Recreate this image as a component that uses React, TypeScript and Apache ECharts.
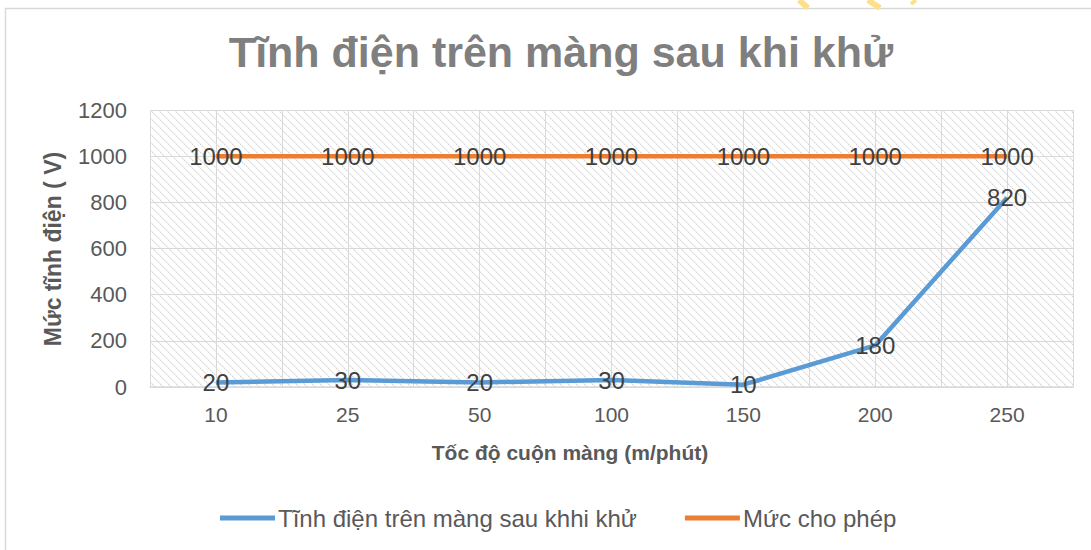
import React, { useEffect, useRef } from "react";
import * as echarts from "echarts";

const categories = ["10", "25", "50", "100", "150", "200", "250"];
const measured = [20, 30, 20, 30, 10, 180, 820];
const allowed = [1000, 1000, 1000, 1000, 1000, 1000, 1000];
const seriesNames = ["Tĩnh điện trên màng sau khhi khử", "Mức cho phép"];
const yTicks = { min: 0, max: 1200, interval: 200 };

const FONT = "'Liberation Sans', Arial, sans-serif";

function makePattern(): HTMLCanvasElement {
  const c = document.createElement("canvas");
  c.width = 8;
  c.height = 8;
  const ctx = c.getContext("2d")!;
  ctx.fillStyle = "#ffffff";
  ctx.fillRect(0, 0, 8, 8);
  for (let i = 0; i < 8; i++) {
    ctx.fillStyle = i % 2 === 0 ? "#d4d4d4" : "#ebebeb";
    ctx.fillRect(i, i, 1, 1);
    ctx.fillStyle = "#f3f3f3";
    ctx.fillRect((i + 1) % 8, i, 1, 1);
  }
  return c;
}

export default function App() {
  const ref = useRef<HTMLDivElement>(null);
  useEffect(() => {
    if (!ref.current) return;
    const chart = echarts.init(ref.current, null, { renderer: "svg" });
    const halfCats = categories.flatMap((c) => [c + "-a", c + "-b"]);
    chart.setOption({
      animation: false,
      backgroundColor: "#ffffff",
      title: {
        text: "Tĩnh điện trên màng sau khi khử",
        left: 556,
        textAlign: "center",
        top: 25,
        textStyle: { fontFamily: FONT, fontSize: 43, fontWeight: "bold", color: "#7f7f7f" },
      },
      graphic: [
        {
          type: "rect",
          shape: { x: 5.5, y: 8.5, width: 1200, height: 700 },
          style: { fill: "none", stroke: "#d9d9d9", lineWidth: 1.5 },
          silent: true,
        },
        {
          type: "line",
          shape: { x1: 799, y1: 0, x2: 808, y2: 8 },
          style: { stroke: "#FFE08A", lineWidth: 6 },
        },
        {
          type: "line",
          shape: { x1: 868, y1: 0, x2: 880, y2: 8 },
          style: { stroke: "#FFE08A", lineWidth: 6 },
        },
        {
          type: "line",
          shape: { x1: 916, y1: 0, x2: 911, y2: 4 },
          style: { stroke: "#FFE08A", lineWidth: 4 },
        },
        {
          type: "text",
          x: 570,
          y: 452,
          style: {
            text: "Tốc độ cuộn màng (m/phút)",
            fontFamily: FONT,
            fontSize: 21,
            fontWeight: "bold",
            fill: "#595959",
            textAlign: "center",
            textVerticalAlign: "middle",
          },
        },
        {
          type: "text",
          x: 53,
          y: 249,
          rotation: Math.PI / 2,
          style: {
            text: "Mức tĩnh điện ( V)",
            fontFamily: FONT,
            fontSize: 23,
            fontWeight: "bold",
            fill: "#595959",
            textAlign: "center",
            textVerticalAlign: "middle",
          },
        },
      ],
      legend: {
        bottom: 15,
        left: 215,
        itemWidth: 55,
        itemHeight: 5,
        itemGap: 48,
        icon: "rect",
        textStyle: { fontFamily: FONT, fontSize: 24, color: "#595959", padding: [0, 0, 0, -2] },
        data: seriesNames,
      },
      grid: {
        left: 150,
        top: 110,
        width: 923,
        height: 277,
        show: true,
        borderWidth: 0,
        backgroundColor: { image: makePattern(), repeat: "repeat" },
      },
      xAxis: [
        {
          type: "category",
          data: categories,
          boundaryGap: true,
          axisTick: { show: false },
          axisLine: { show: true, lineStyle: { color: "#d9d9d9", width: 1.5 } },
          axisLabel: { fontFamily: FONT, fontSize: 21, color: "#595959", margin: 17 },
          splitLine: { show: false },
        },
        {
          type: "category",
          data: halfCats,
          boundaryGap: true,
          position: "top",
          axisTick: { show: false },
          axisLine: { show: false },
          axisLabel: { show: false },
          splitLine: { show: true, lineStyle: { color: "#d9d9d9", width: 1 } },
        },
      ],
      yAxis: {
        type: "value",
        min: yTicks.min,
        max: yTicks.max,
        interval: yTicks.interval,
        axisLine: { show: false },
        axisTick: { show: false },
        axisLabel: {
          fontFamily: FONT,
          fontSize: 22,
          color: "#595959",
          margin: 23,
          formatter: (v: number) => String(v),
        },
        splitLine: { show: true, lineStyle: { color: "#d9d9d9", width: 1 } },
      },
      series: [
        {
          name: seriesNames[0],
          type: "line",
          data: measured,
          xAxisIndex: 0,
          symbol: "circle",
          symbolSize: 1,
          showSymbol: true,
          lineStyle: { color: "#5B9BD5", width: 4.5 },
          itemStyle: { color: "#5B9BD5" },
          label: {
            show: true,
            position: "inside",
            fontFamily: FONT,
            fontSize: 24,
            color: "#404040",
            formatter: (p: any) => String(p.value),
          },
          z: 3,
        },
        {
          name: seriesNames[1],
          type: "line",
          data: allowed,
          xAxisIndex: 0,
          symbol: "circle",
          symbolSize: 1,
          showSymbol: true,
          lineStyle: { color: "#ED7D31", width: 4.5 },
          itemStyle: { color: "#ED7D31" },
          label: {
            show: true,
            position: "inside",
            fontFamily: FONT,
            fontSize: 24,
            color: "#404040",
            formatter: (p: any) => String(p.value),
          },
          z: 3,
        },
      ],
    });
    return () => chart.dispose();
  }, []);
  return (
    <div
      ref={ref}
      style={{ position: "absolute", left: 0, top: 0, width: 1091, height: 550 }}
    />
  );
}
